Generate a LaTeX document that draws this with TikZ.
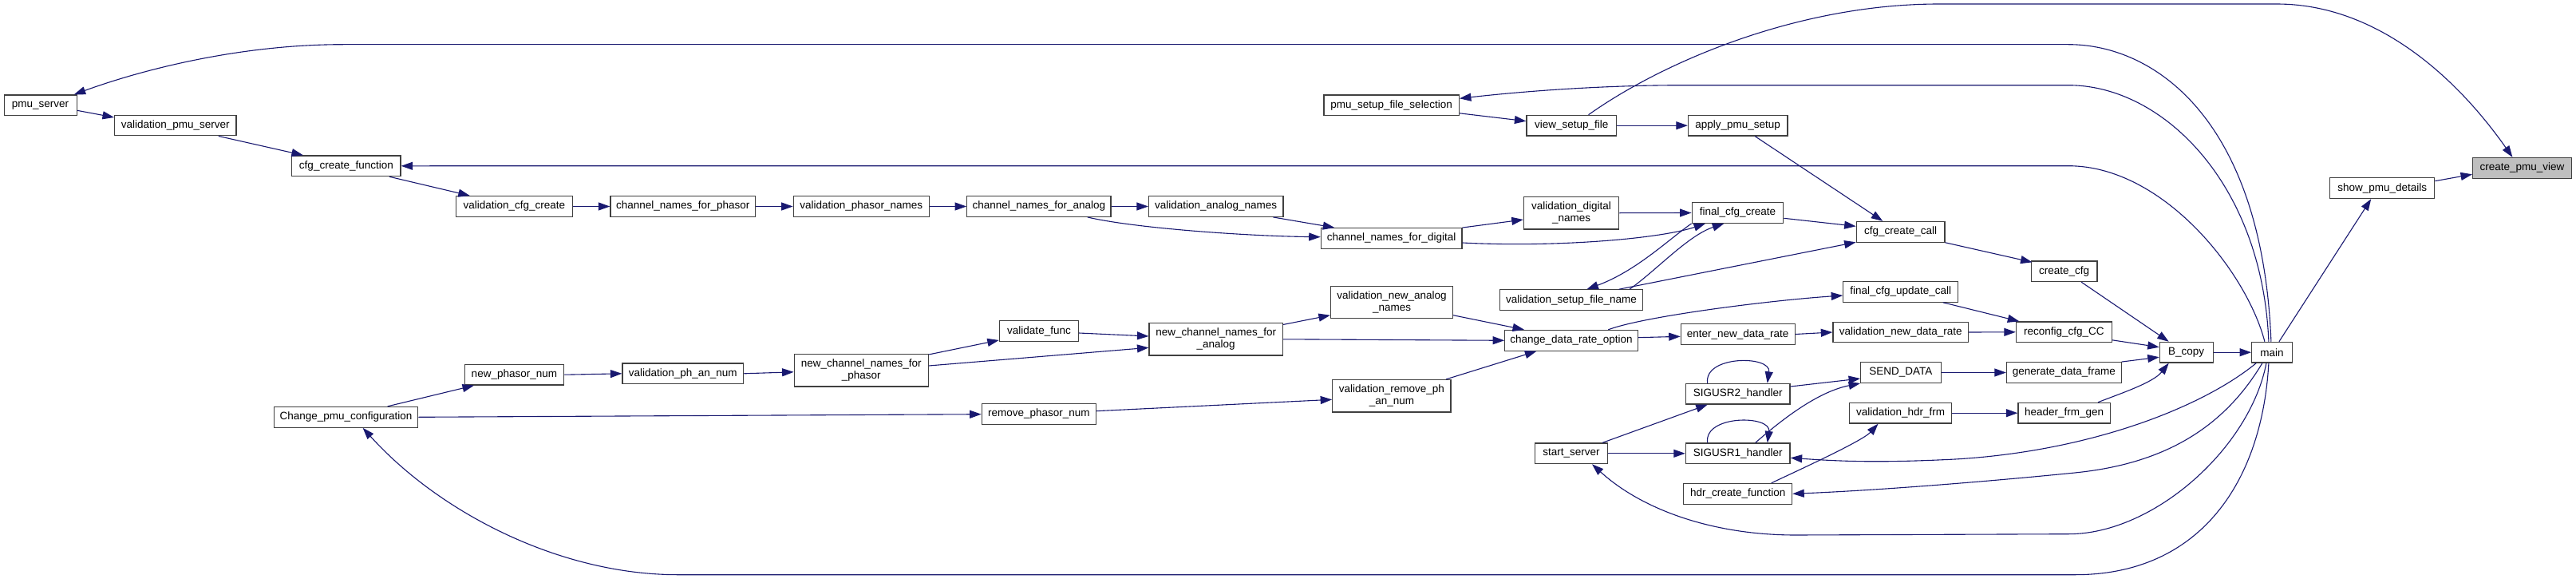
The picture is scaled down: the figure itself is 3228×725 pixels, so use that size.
\documentclass[tikz,border=0pt]{standalone}
\usepackage{fontspec}
\setmainfont{Liberation Sans}
\usetikzlibrary{arrows.meta,calc}
\definecolor{edgec}{HTML}{191970}
\definecolor{boxc}{HTML}{404040}
\definecolor{rootc}{HTML}{BFBFBF}
\tikzset{
  fn/.style={draw=boxc, line width=1.2pt, fill=white, inner sep=0pt, minimum height=25.7pt, align=center, font=\fontsize{13.5}{15}\selectfont},
  fntwo/.style={fn, minimum height=40.5pt},
  rootfn/.style={fn, fill=rootc},
  e/.style={draw=edgec, line width=1.1pt, -{Triangle[length=14.5pt,width=10pt]}},
}
\begin{document}
\begin{tikzpicture}[x=1pt,y=-1pt]
\useasboundingbox (0,0) rectangle (3228,725);
% nodes
\node[fn, minimum width=91pt] (ps) at (50.6,131.8) {pmu\_server};
\node[fn, minimum width=152.4pt] (vps) at (219.8,157) {validation\_pmu\_server};
\node[fn, minimum width=136.3pt] (ccf) at (433.9,207.8) {cfg\_create\_function};
\node[fn, minimum width=146.2pt] (vcc) at (644.4,258.5) {validation\_cfg\_create};
\node[fn, minimum width=181.7pt] (cnfp) at (855.8,258.5) {channel\_names\_for\_phasor};
\node[fn, minimum width=170pt] (vpn) at (1079.2,258.5) {validation\_phasor\_names};
\node[fn, minimum width=180.2pt] (cnfa) at (1301.8,258.5) {channel\_names\_for\_analog};
\node[fn, minimum width=168.4pt] (van) at (1523.7,258.5) {validation\_analog\_names};
\node[fn, minimum width=124.5pt] (npn) at (644.4,469.2) {new\_phasor\_num};
\node[fn, minimum width=180.3pt] (cpc) at (433.6,522.3) {Change\_pmu\_configuration};
\node[fn, minimum width=151.7pt] (vpan) at (855.8,467.8) {validation\_ph\_an\_num};
\node[fntwo, minimum width=168pt] (ncnfp) at (1079.2,463.8) {new\_channel\_names\_for\\\_phasor};
\node[fn, minimum width=99.2pt] (vf) at (1302,414.5) {validate\_func};
\node[fntwo, minimum width=167.3pt] (ncnfa) at (1523.7,424.8) {new\_channel\_names\_for\\\_analog};
\node[fn, minimum width=143pt] (rpn) at (1301.8,518.5) {remove\_phasor\_num};
\node[fn, minimum width=169.4pt] (psfs) at (1743.6,131.8) {pmu\_setup\_file\_selection};
\node[fn, minimum width=112.6pt] (vsf) at (1969.3,157.2) {view\_setup\_file};
\node[fn, minimum width=124.5pt] (aps) at (2177.7,157.2) {apply\_pmu\_setup};
\node[fntwo, minimum width=119.3pt] (vdn) at (1969,266.7) {validation\_digital\\\_names};
\node[fn, minimum width=114.7pt] (fcc) at (2177.5,266.5) {final\_cfg\_create};
\node[fn, minimum width=176.6pt] (cnfd) at (1743.6,298.5) {channel\_names\_for\_digital};
\node[fn, minimum width=110.7pt] (ccc) at (2381.6,290.3) {cfg\_create\_call};
\node[fn, minimum width=179pt] (vsfn) at (1969,375.7) {validation\_setup\_file\_name};
\node[fntwo, minimum width=153pt, minimum height=39.5pt] (vnan) at (1744,378.4) {validation\_new\_analog\\\_names};
\node[fntwo, minimum width=148.3pt] (vrpan) at (1743.9,495.8) {validation\_remove\_ph\\\_an\_num};
\node[fn, minimum width=143.8pt] (fcuc) at (2381.7,365.3) {final\_cfg\_update\_call};
\node[fn, minimum width=166.5pt] (cdro) at (1969,426.3) {change\_data\_rate\_option};
\node[fn, minimum width=142.8pt] (endr) at (2177.7,418.5) {enter\_new\_data\_rate};
\node[fn, minimum width=169.6pt] (vndr) at (2381.7,416) {validation\_new\_data\_rate};
\node[fn, minimum width=119.7pt] (rcc) at (2586.3,415.8) {reconfig\_cfg\_CC};
\node[fn, minimum width=90.4pt] (ss) at (1969,567.8) {start\_server};
\node[fn, minimum width=130.7pt] (s2) at (2177.7,493.2) {SIGUSR2\_handler};
\node[fn, minimum width=130.7pt] (s1) at (2177.7,567.8) {SIGUSR1\_handler};
\node[fn, minimum width=135.9pt] (hcf) at (2177.7,618.3) {hdr\_create\_function};
\node[fn, minimum width=100.4pt] (sd) at (2381.9,466.5) {SEND\_DATA};
\node[fn, minimum width=143.7pt] (gdf) at (2586.3,466.5) {generate\_data\_frame};
\node[fn, minimum width=128pt] (vhf) at (2381.5,517.2) {validation\_hdr\_frm};
\node[fn, minimum width=115.2pt] (hfg) at (2586.6,517.2) {header\_frm\_gen};
\node[rootfn, minimum width=123.6pt] (cpv) at (3160.4,210.3) {create\_pmu\_view};
\node[fn, minimum width=130.9pt] (spd) at (2985.2,235.7) {show\_pmu\_details};
\node[fn, minimum width=82.9pt] (ccfg) at (2586.6,339.8) {create\_cfg};
\node[fn, minimum width=66.8pt] (bc) at (2739.7,441.2) {B\_copy};
\node[fn, minimum width=50.6pt] (mn) at (2846.9,441.2) {main};
% edges
\draw[e] ($(ps.east)+(0,6.5)$) -- ($(vps.west)+(0,-10)$);
\draw[e] ($(vps.south)+(54,0)$) -- ($(ccf.north)+(-54,0)$);
\draw[e] ($(ccf.south)+(54,0)$) -- ($(vcc.north)+(-55.6,0)$);
\draw[e] (vcc.east) -- (cnfp.west);
\draw[e] (cnfp.east) -- (vpn.west);
\draw[e] (vpn.east) -- (cnfa.west);
\draw[e] (cnfa.east) -- (van.west);
\draw[e] ($(cnfa.south)+(61,0)$) .. controls +(60,14) and +(-90,-1) .. ($(cnfd.west)+(0,-1.8)$);
\draw[e] ($(van.south)+(71.7,0)$) -- ($(cnfd.north)+(-71.3,0)$);
\draw[e] (cnfd.north east) -- ($(vdn.west)+(0,8.3)$);
\draw[e] ($(cnfd.east)+(0,5.5)$) .. controls +(118,6) and +(-57,19) .. ($(fcc.south)+(-40.5,0)$);
\draw[e] (vdn.east) -- (fcc.west);
\draw[e] (fcc.south west) .. controls +(-30,21) and +(62,-23) .. ($(vsfn.north)+(19.4,0)$);
\draw[e] ($(vsfn.north)+(73,0)$) .. controls +(35,-25) and +(-45,15) .. ($(fcc.south)+(-17.2,0)$);
\draw[e] ($(vsfn.north)+(59.6,0)$) -- ($(ccc.west)+(0,13)$);
\draw[e] ($(fcc.east)+(0,6.8)$) -- ($(ccc.west)+(0,-7)$);
\draw[e] ($(aps.south)+(21.5,0)$) -- ($(ccc.north)+(-22.3,0)$);
\draw[e] (vsf.east) -- (aps.west);
\draw[e] ($(psfs.east)+(0,10)$) -- ($(vsf.west)+(0,-5.5)$);
\draw[e] ($(vsf.north)+(21.2,0)$) .. controls +(90,-64) and +(-180,0) .. (2430,5) -- (2853,5) .. controls +(127,0) and +(-68,-97) .. ($(cpv.north)+(-12,0)$);
\draw[e] ($(spd.east)+(0,-9)$) -- ($(cpv.west)+(0,8)$);
\draw[e] ($(mn.north)+(9,0)$) -- ($(spd.south)+(-14,0)$);
\draw[e] (ccc.south east) -- ($(ccfg.north west)+(2,2)$);
\draw[e] ($(ccfg.south)+(21.6,0)$) -- ($(bc.north)+(-22,0)$);
\draw[e] ($(fcuc.south)+(53,0)$) -- ($(rcc.north)+(-56,0)$);
\draw[e] (vndr.east) -- (rcc.west);
\draw[e] ($(rcc.east)+(0,10)$) -- ($(bc.west)+(0,-6.5)$);
\draw[e] (gdf.north east) -- ($(bc.west)+(0,6)$);
\draw[e] ($(hfg.north)+(42.4,0)$) .. controls +(25,-10) and +(-20,25) .. ($(bc.south)+(-22,0)$);
\draw[e] (bc.east) -- (mn.west);
\draw[e] (sd.east) -- (gdf.west);
\draw[e] (vhf.east) -- (hfg.west);
\draw[e] (endr.east) -- (vndr.west);
\draw[e] ($(cdro.east)+(0,-3.6)$) -- ($(endr.west)+(0,2.8)$);
\draw[e] ($(cdro.north)+(46.2,0)$) .. controls +(45,-17) and +(-90,6) .. ($(fcuc.west)+(0,4.7)$);
\draw[e] (ncnfa.east) -- (cdro.west);
\draw[e] ($(ncnfa.north east)+(0,2.5)$) -- ($(vnan.south west)+(0,-4)$);
\draw[e] ($(vnan.south east)+(0,-4)$) -- ($(cdro.north)+(-59,0)$);
\draw[e] ($(vrpan.north)+(68,0)$) -- ($(cdro.south)+(-43.6,0)$);
\draw[e] ($(rpn.east)+(0,-3.8)$) -- ($(vrpan.west)+(0,4.5)$);
\draw[e] (cpc.east) -- ($(rpn.west)+(0,0.2)$);
\draw[e] ($(cpc.north)+(52,0)$) -- ($(npn.south)+(-50.4,0)$);
\draw[e] (npn.east) -- (vpan.west);
\draw[e] (vpan.east) -- ($(ncnfp.west)+(0,2)$);
\draw[e] ($(ncnfp.north east)+(0,1)$) -- ($(vf.south west)+(0,-2)$);
\draw[e] ($(ncnfp.east)+(0,-5.8)$) -- ($(ncnfa.west)+(0,10.5)$);
\draw[e] ($(vf.east)+(0,2.5)$) -- ($(ncnfa.west)+(0,-3.8)$);
\draw[e] ($(ss.north)+(39,0)$) -- ($(s2.south)+(-38,0)$);
\draw[e] (ss.east) -- (s1.west);
\draw[e] ($(s2.north)+(-38,0)$) .. controls +(-5,-35) and +(5,-35) .. ($(s2.north)+(37,0)$);
\draw[e] ($(s1.north)+(-38,0)$) .. controls +(-5,-35) and +(5,-35) .. ($(s1.north)+(37,0)$);
\draw[e] ($(s2.east)+(0,-9.2)$) -- ($(sd.west)+(0,7.5)$);
\draw[e] ($(s1.north)+(22,0)$) .. controls +(40,-35) and +(-50,10) .. (sd.south west);
\draw[e] ($(hcf.north)+(42,0)$) .. controls +(25,-12) and +(-20,22) .. ($(vhf.south)+(-28,0)$);
% main bottom curves
\draw[e] ($(mn.south)+(-19.6,0)$) .. controls +(-67,55) and +(170,-10) .. (2450,575) .. controls +(-100,5) and +(57,4) .. ($(s1.east)+(0,5.5)$);
\draw[e] ($(mn.south)+(-12,0)$) .. controls +(-45,75) and +(120,-12) .. (2600,592) .. controls +(-120,12) and +(100,-4) .. (hcf.east);
\draw[e] ($(mn.south)+(-7,0)$) .. controls +(-20,105) and +(108,0) .. (2592,668.7) -- (2250,670) .. controls +(-100,0) and +(65,59) .. ($(ss.south)+(26,0)$);
\draw[e] ($(mn.south)+(-4,0)$) .. controls +(-8,145) and +(160,0) .. (2600,719.7) -- (850,719.7) .. controls +(-150,0) and +(95,105) .. ($(cpc.south)+(21,0)$);
% main top curves
\draw[e] ($(mn.north)+(-1,0)$) .. controls +(-11,-278) and +(108,0) .. (2592,55.7) -- (430,55.7) .. controls +(-130,0) and +(85,-31) .. ($(ps.north east)+(-4,0)$);
\draw[e] ($(mn.north)+(-4,0)$) .. controls +(-8,-198) and +(118,0) .. (2592,106.7) -- (2110,106.7) .. controls +(-110,0) and +(71,-8) .. ($(psfs.east)+(0,-8.5)$);
\draw[e] ($(mn.north)+(-9,0)$) .. controls +(-23,-88) and +(118,0) .. (2592,207.7) -- (ccf.east);
\end{tikzpicture}
\end{document}
